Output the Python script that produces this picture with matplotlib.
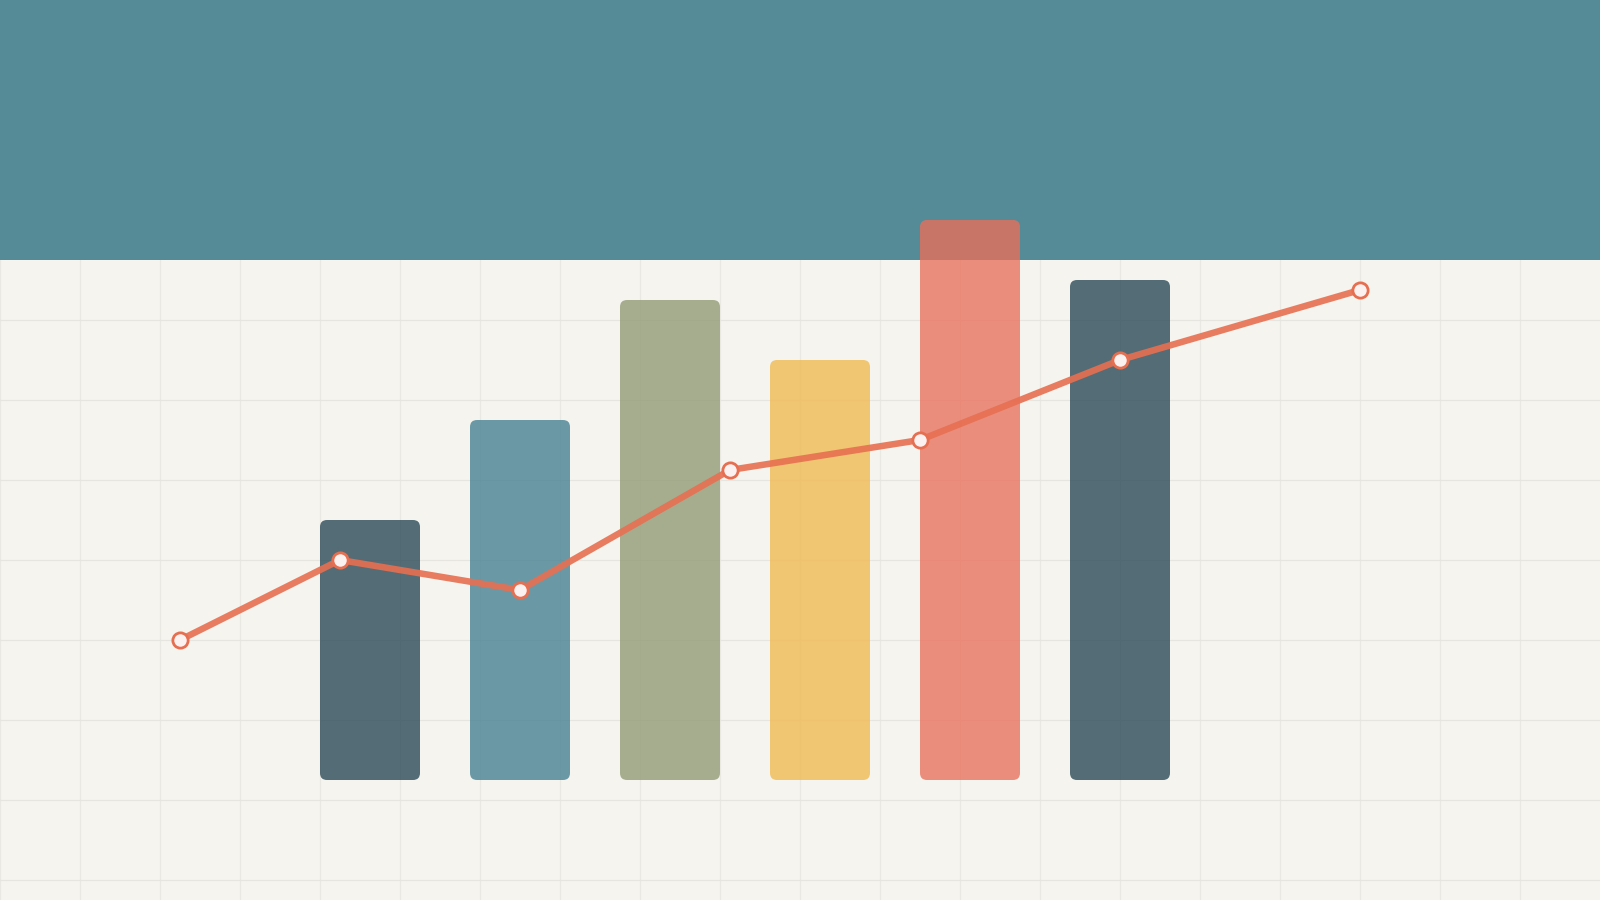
import numpy as np
import matplotlib
matplotlib.use("Agg")
import matplotlib.pyplot as plt
from matplotlib.patches import FancyBboxPatch

# bar series
bar_x = [37, 52, 67, 82, 97, 112]
bar_h = [13, 18, 24, 21, 28, 25]
bar_colors = ['#264653', '#438091', '#909a74', '#f0b94f', '#e9705c', '#264653']

# line series
line_x = [18, 34, 52, 73, 92, 112, 136]
line_y = [7, 11, 9.5, 15.5, 17, 21, 24.5]

bg = '#f5f4ef'
header = '#558b96'
red = '#e76f51'

fig = plt.figure(figsize=(16, 9), dpi=100, facecolor=bg)
ax = fig.add_axes([0, 0, 1, 1])
ax.set_facecolor(bg)
ax.set_xlim(0, 160)
ax.set_ylim(-6, 39)

# light grid
for gx in np.arange(0, 160, 8):
    ax.axvline(gx, color='#eae8e3', lw=0.9, zorder=0.5)
for gy in np.arange(39, -7, -4):
    ax.axhline(gy, color='#e7e5e0', lw=0.9, zorder=0.5)

# header band
ax.axhspan(26, 39, color=header, zorder=1, lw=0)

bars = ax.bar(bar_x, bar_h, width=10, color=bar_colors, alpha=0.78, zorder=2)
for b in bars:
    x0, y0 = b.get_xy()
    w, h = b.get_width(), b.get_height()
    rp = FancyBboxPatch((x0, y0), w, h,
                        boxstyle="round,pad=0,rounding_size=0.7",
                        mutation_aspect=0.5,
                        fc=b.get_facecolor(), ec='none', zorder=2)
    ax.add_patch(rp)
    b.remove()

ax.plot(line_x, line_y, color=red, lw=4.7, alpha=0.9, zorder=3,
        solid_capstyle='round', solid_joinstyle='round')
ax.plot(line_x, line_y, ls='none', marker='o', ms=11, mfc='#fbf1f0',
        mec=red, mew=2.0, zorder=4)

ax.axis('off')
fig.savefig('out.png', dpi=100, facecolor=bg)
